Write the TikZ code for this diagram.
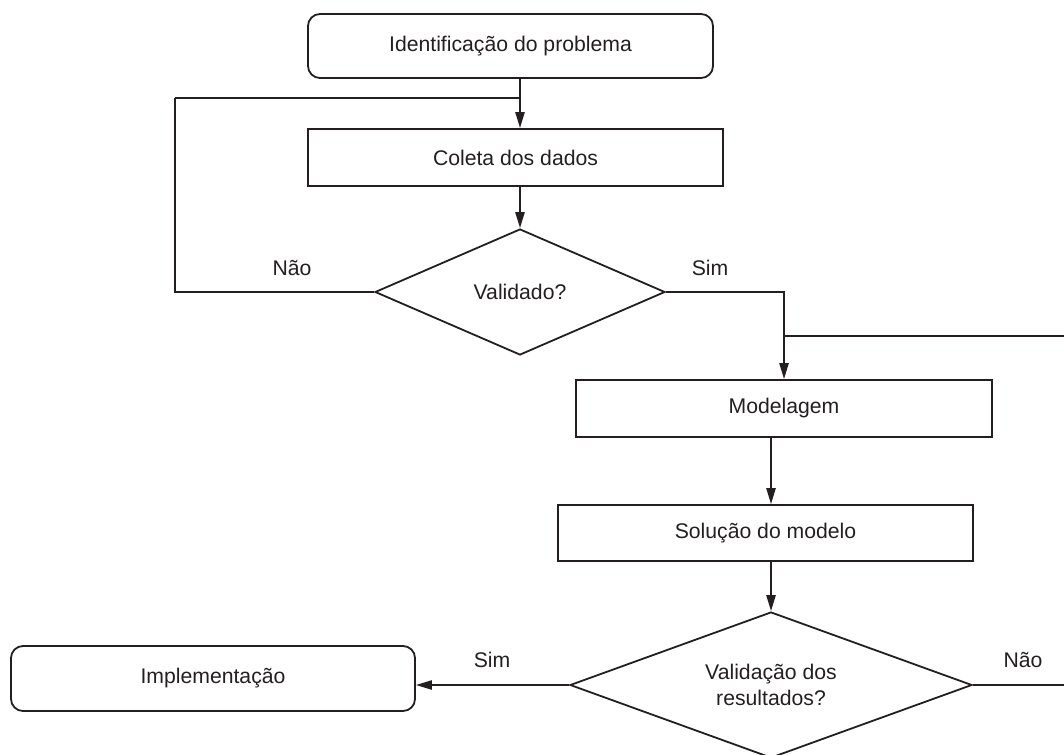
\documentclass[tikz,border=0pt]{standalone}
\usepackage{fontspec}
\setmainfont{Liberation Sans}
\usetikzlibrary{positioning, shapes.geometric, arrows.meta}

\definecolor{traco}{RGB}{35,31,32}

\tikzset{
  etapa/.style={rectangle, draw=traco, line width=0.9pt, minimum width=207.5pt, minimum height=28.5pt, inner sep=0pt},
  extremo/.style={etapa, rounded corners=6pt, minimum height=32pt},
  decisao/.style={diamond, draw=traco, line width=0.9pt, inner sep=0pt, align=center, aspect=2.5},
  rotulo/.style={text=traco},
  seta/.style={-{Triangle[length=8pt,width=4.6pt]}, draw=traco, line width=0.9pt},
  linha/.style={draw=traco, line width=0.9pt}
}

\begin{document}
\begin{tikzpicture}[x=0.5pt, y=-0.5pt, font=\fontsize{10.6}{13}\selectfont, text=traco]
    \useasboundingbox (0,0) rectangle (1064,754);
    \clip (0,0) rectangle (1064,754);
    \node[extremo, minimum width=202.5pt] (ident) at (510.5,46) {Identificação do problema};
    \node[etapa] (coleta) at (515.5,157.5) {Coleta dos dados};
    \node[decisao, minimum width=145pt, minimum height=63pt] (valid) at (520,292) {Validado?};
    \node[etapa, minimum width=208pt] (model) at (784,408.5) {Modelagem};
    \node[etapa, minimum height=28pt] (solucao) at (765.5,533) {Solução do modelo};
    \node[decisao, minimum width=201pt, minimum height=73pt] (valres) at (771,685) {Validação dos\\resultados?};
    \node[extremo, minimum width=202pt, minimum height=32.5pt] (impl) at (213,678.5) {Implementação};
    \node[rotulo] (nao1) at (292,268) {Não};
    \node[rotulo] (sim1) at (710,268) {Sim};
    \node[rotulo] (sim2) at (492,660) {Sim};
    \node[rotulo] (nao2) at (1023,660) {Não};
    \coordinate (volta) at (175,98);
    \coordinate (junta) at (520,98);
    \coordinate (ramo) at (784,336);
    \coordinate (ramoR) at (1064,336);
    \coordinate (saiR) at (1064,685);
    \path
      (ident.south -| valid.north) edge[seta] (valid.north |- coleta.north)
      (valid.north |- coleta.south) edge[seta] (valid.north)
      (valid.east) edge[seta, to path={-| (\tikztotarget)}] (model.north)
      (valres.north |- model.south) edge[seta] (valres.north |- solucao.north)
      (valres.north |- solucao.south) edge[seta] (valres.north)
      (valres.west) edge[seta] (valres.west -| impl.east);
    \path
      (valid.west) edge[linha, to path={-| (\tikztotarget)}] (volta)
      (volta) edge[linha] (junta)
      (ramo) edge[linha] (ramoR)
      (valres.east) edge[linha] (saiR);
  \end{tikzpicture}
\end{document}
